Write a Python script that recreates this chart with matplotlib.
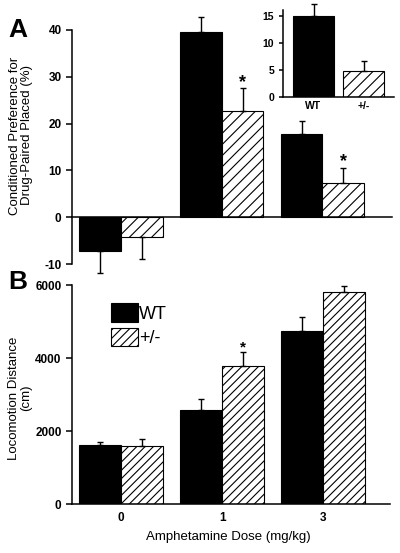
import numpy as np
import matplotlib
matplotlib.use("Agg")
import matplotlib.pyplot as plt

plt.rcParams['font.family'] = ['Liberation Sans', 'DejaVu Sans']
plt.rcParams['hatch.linewidth'] = 0.8
plt.rcParams['axes.unicode_minus'] = False

doses = ['0', '1', '3']

# panel A: conditioned place preference (%)
cpp_wt = [-7.2, 39.6, 17.7]
cpp_wt_err = [4.7, 3.2, 2.9]
cpp_het = [-4.2, 22.6, 7.4]
cpp_het_err = [4.8, 4.9, 3.2]

# inset of panel A
inset_groups = ['WT', '+/-']
inset_vals = [15.0, 4.8]
inset_err = [2.1, 1.8]

# panel B: locomotion distance (cm)
loco_wt = [1610, 2570, 4740]
loco_wt_err = [90, 320, 380]
loco_het = [1580, 3780, 5800]
loco_het_err = [200, 380, 170]

stars_a = [False, True, True]
stars_b = [False, True, False]


def one_sided(vals, errs):
    lower = [e if v < 0 else 0 for v, e in zip(vals, errs)]
    upper = [0 if v < 0 else e for v, e in zip(vals, errs)]
    return [lower, upper]


def style_axis(ax):
    ax.spines['top'].set_visible(False)
    ax.spines['right'].set_visible(False)
    ax.spines['left'].set_linewidth(1.1)
    ax.spines['bottom'].set_linewidth(1.1)
    ax.tick_params(axis='y', direction='out', length=4, width=1.1, labelsize=8.5)
    for lab in ax.get_yticklabels():
        lab.set_fontweight('bold')


fig = plt.figure(figsize=(4, 5.53), dpi=100)

x = np.arange(len(doses))
w = 0.415
ebar = dict(elinewidth=1.0, capsize=2.5, capthick=1.0, ecolor='black', clip_on=False)

# ---- panel A
axA = fig.add_axes([0.18, 0.5226, 0.80, 0.4232])
axA.bar(x - w / 2, cpp_wt, w, color='black', edgecolor='black', linewidth=0.8,
        yerr=one_sided(cpp_wt, cpp_wt_err), error_kw=ebar)
axA.bar(x + w / 2, cpp_het, w, color='white', edgecolor='black', linewidth=0.8,
        hatch='///', yerr=one_sided(cpp_het, cpp_het_err), error_kw=ebar)
for i, s in enumerate(stars_a):
    if s:
        axA.annotate('*', (x[i] + w / 2, cpp_het[i] + cpp_het_err[i]), xytext=(0, -2),
                     textcoords='offset points', ha='center', va='bottom',
                     fontsize=13, fontweight='bold')
axA.set_xlim(-0.485, 2.69)
axA.set_ylim(-10, 40)
axA.set_yticks([-10, 0, 10, 20, 30, 40])
axA.spines['bottom'].set_position(('data', 0))
axA.set_xticks([])
style_axis(axA)

# inset
axI = fig.add_axes([0.7075, 0.8246, 0.2775, 0.157])
axI.bar(np.arange(2), inset_vals, 0.82, color=['black', 'white'], edgecolor='black',
        linewidth=0.8, hatch=['', '///'], yerr=[[0, 0], inset_err], error_kw=ebar)
axI.set_xlim(-0.61, 1.61)
axI.set_ylim(0, 16)
axI.set_yticks([0, 5, 10, 15])
axI.set_xticks(np.arange(2))
axI.set_xticklabels(inset_groups, fontsize=7.5, fontweight='bold')
axI.tick_params(axis='x', length=0, pad=3)
style_axis(axI)
axI.tick_params(axis='y', labelsize=7.5, length=3)

# ---- panel B
axB = fig.add_axes([0.18, 0.0886, 0.795, 0.396])
bw = axB.bar(x - w / 2, loco_wt, w, color='black', edgecolor='black', linewidth=0.8,
             yerr=[[0] * 3, loco_wt_err], error_kw=ebar, label='WT')
bh = axB.bar(x + w / 2, loco_het, w, color='white', edgecolor='black', linewidth=0.8,
             hatch='////', yerr=[[0] * 3, loco_het_err], error_kw=ebar, label='+/-')
for i, s in enumerate(stars_b):
    if s:
        axB.annotate('*', (x[i] + w / 2, loco_het[i] + loco_het_err[i]), xytext=(0, -2),
                     textcoords='offset points', ha='center', va='bottom',
                     fontsize=11, fontweight='bold')
axB.set_xlim(-0.485, 2.66)
axB.set_ylim(0, 6000)
axB.set_yticks([0, 2000, 4000, 6000])
axB.set_xticks(x)
axB.set_xticklabels(doses, fontsize=8.5, fontweight='bold')
axB.tick_params(axis='x', length=0, pad=6)
style_axis(axB)
axB.legend(handles=[bw, bh], loc='upper left', bbox_to_anchor=(0.1, 0.95),
           frameon=False, fontsize=13, handlelength=1.5, handleheight=1.2,
           handletextpad=0.05, labelspacing=0.3, borderaxespad=0)

# labels
fig.text(0.02, 0.945, 'A', fontsize=19, fontweight='bold', va='center', ha='left')
fig.text(0.02, 0.49, 'B', fontsize=19, fontweight='bold', va='center', ha='left')
fig.text(0.052, 0.755, 'Conditioned Preference for\nDrug-Paired Placed (%)',
         rotation=90, ha='center', va='center', fontsize=9.5, linespacing=1.0)
fig.text(0.05, 0.28, 'Locomotion Distance\n(cm)', rotation=90, ha='center',
         va='center', fontsize=9.5, linespacing=1.0)
fig.text(0.57, 0.029, 'Amphetamine Dose (mg/kg)', ha='center', va='center', fontsize=9.5)

fig.savefig('out.png', dpi=100)
